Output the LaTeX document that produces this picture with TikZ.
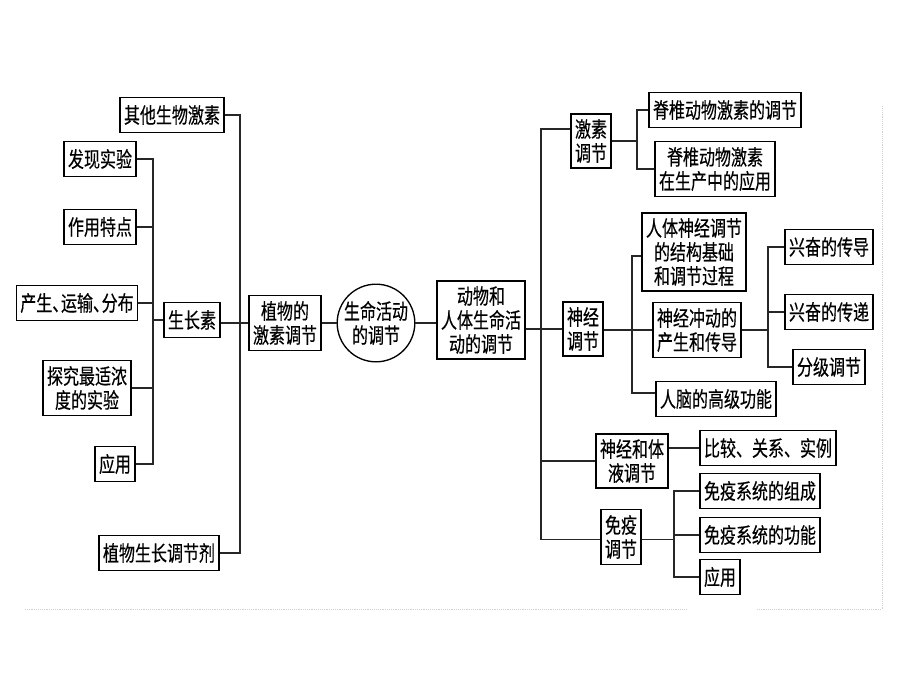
\documentclass[tikz,border=0pt]{standalone}
\usepackage{fontspec}
\setmainfont{Noto Sans CJK SC}[FakeStretch=0.75, FakeBold=0.4]

\tikzset{
    box/.style={draw, line width=1pt, inner xsep=3pt, inner ysep=4pt,
        minimum height=26pt, align=center, font=\fontsize{16}{18}\selectfont},
    link/.style={line width=1pt, black!85},
}

\begin{document}
\begin{tikzpicture}[x=0.75pt, y=-0.75pt]
            \useasboundingbox (0,0) rectangle (920,690);

            % plant side
            \foreach \n/\x/\y/\t in {qita/172/115/{其他生物激素}, faxian/100/159/{发现实验},
                zuoyong/100/227/{作用特点}, chansheng/77/303/{产生、\hspace{-5.5pt}运输、\hspace{-5.5pt}分布},
                szs/192/320/{生长素}, zhiwu/285/323/{植物的\\激素调节},
                tanjiu/87/388/{探究最适浓\\度的实验}, yingyong1/115/464/{应用},
                tiaojieji/159/553/{植物生长调节剂}} {
                \node[box] (\n) at (\x, \y) {\t};
            }

            \node[draw, circle, line width=1pt, minimum size=57pt, inner sep=0pt, align=center,
                font=\fontsize{16}{18}\selectfont] (life) at (376, 323) {生命活动\\的调节};

            % animal side
            \foreach \n/\x/\y/\t in {dongwu/481/320/{动物和\\人体生命活\\动的调节},
                jisu/591/141/{激素\\调节}, jizhui1/725/110/{脊椎动物激素的调节},
                jizhui2/715/169/{脊椎动物激素\\在生产中的应用}, shenjing/583/329/{神经\\调节},
                jiegou/694/252/{人体神经调节\\的结构基础\\和调节过程}, chongdong/697/330/{神经冲动的\\产生和传导},
                rennao/716/399/{人脑的高级功能}, chuandao/829/247/{兴奋的传导},
                chuandi/829/312/{兴奋的传递}, fenji/829/367/{分级调节},
                tiye/632/461/{神经和体\\液调节}, bijiao/768/448/{比较、关系、实例},
                mianyi/621/537/{免疫\\调节}, zucheng/760/491/{免疫系统的组成},
                gongneng/760/535/{免疫系统的功能}, yingyong2/720/577/{应用}} {
                \node[box] (\n) at (\x, \y) {\t};
            }

            \coordinate (c1) at (153, 0);
            \coordinate (c2) at (240, 0);
            \coordinate (c3) at (541, 0);
            \coordinate (c4) at (637, 0);
            \coordinate (c5) at (632, 0);
            \coordinate (c6) at (768, 0);
            \coordinate (c7) at (674, 0);

            \begin{scope}[link]
            % auxin branch
            \draw (faxian.east) -- (faxian.east -| c1) -- (yingyong1.east -| c1) -- (yingyong1.east);
            \foreach \n in {zuoyong, chansheng, tanjiu} {
                \draw (\n.east) -- (\n.east -| c1);
            }
            \draw (szs.west) -- (szs.west -| c1);
            \draw (qita.east) -- (qita.east -| c2) -- (tiaojieji.east -| c2) -- (tiaojieji.east);
            \draw (zhiwu.west -| szs.east) -- (zhiwu.west);
            \draw (zhiwu.east) -- (life.west);
            \draw (life.east) -- (life.east -| dongwu.west);

            % animal branch
            \draw (shenjing.west -| dongwu.east) -- (shenjing.west);
            \draw ([yshift=9pt]jisu.west) -- ([yshift=9pt]jisu.west -| c3) -- ([yshift=-2pt]mianyi.west -| c3) -- ([yshift=-2pt]mianyi.west);
            \draw (tiye.west) -- (tiye.west -| c3);
            \draw (jizhui1.west) -- (jizhui1.west -| c4) -- (jizhui2.west -| c4) -- (jizhui2.west);
            \draw (jisu.east) -- (jisu.east -| c4);
            \draw ([yshift=-3pt]jiegou.west) -- ([yshift=-3pt]jiegou.west -| c5) -- ([yshift=4.5pt]rennao.west -| c5) -- ([yshift=4.5pt]rennao.west);
            \draw (chongdong.west -| shenjing.east) -- (chongdong.west);
            \draw (chuandao.west) -- (chuandao.west -| c6) -- (fenji.west -| c6) -- (fenji.west);
            \draw (chuandi.west) -- (chuandi.west -| c6);
            \draw (chongdong.east) -- (chongdong.east -| c6);
            \draw (bijiao.west -| tiye.east) -- (bijiao.west);
            \draw (zucheng.west) -- (zucheng.west -| c7) -- (yingyong2.west -| c7) -- (yingyong2.west);
            \draw (gongneng.west) -- (gongneng.west -| c7);
            \draw ([yshift=-2pt]mianyi.east) -- ([yshift=-2pt]mianyi.east -| c7);
            \end{scope}

            % faint page edge
            \draw[gray!35, densely dotted] (25, 609) -- (687, 609);
            \draw[gray!35, densely dotted] (757, 609) -- (882, 609) -- (882, 105);

        \end{tikzpicture}
\end{document}
